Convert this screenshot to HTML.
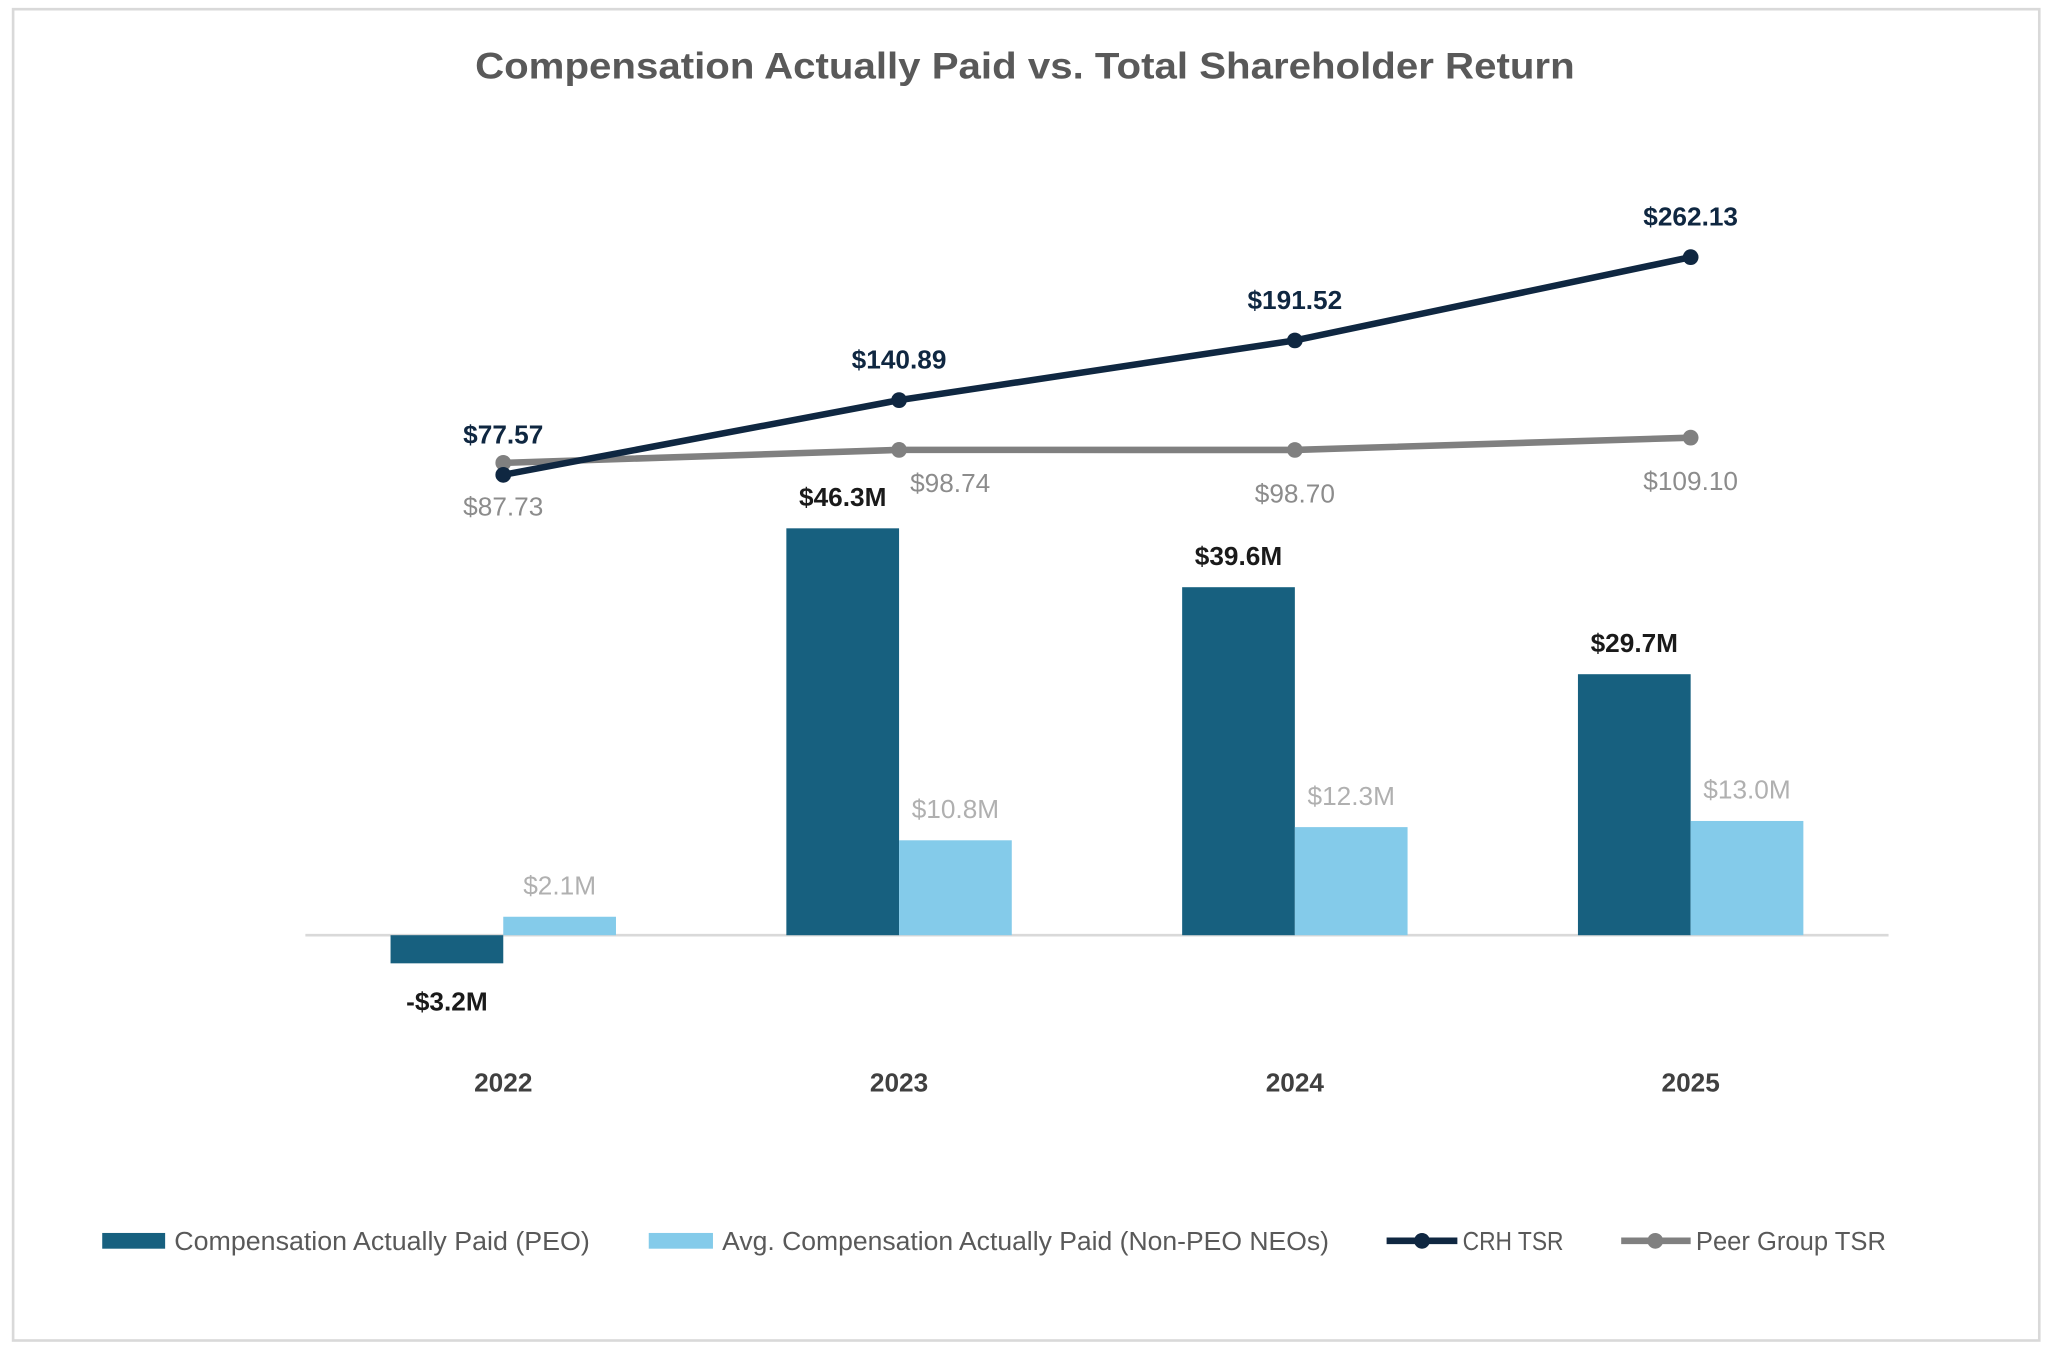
<!DOCTYPE html>
<html><head><meta charset="utf-8"><style>
html,body{margin:0;padding:0;background:#fff;}
svg{display:block;font-family:"Liberation Sans",Arial,sans-serif;}
</style></head><body>
<svg id="chart" width="2055" height="1351" viewBox="0 0 1568 1030" preserveAspectRatio="none" xmlns="http://www.w3.org/2000/svg">
<rect x="10" y="7" width="1546" height="1015" fill="#fff" stroke="#d9d9d9" stroke-width="2"/>
<text x="782" y="60" text-anchor="middle" font-size="28" font-weight="bold" fill="#595959" textLength="839" lengthAdjust="spacingAndGlyphs">Compensation Actually Paid vs. Total Shareholder Return</text>
<line x1="233" y1="713" x2="1441" y2="713" stroke="#d9d9d9" stroke-width="2"/>
<g id="bars"></g><g id="lines"></g><g id="labels"></g>
<g font-size="20" fill="#595959">
<rect x="78" y="940" width="48" height="12" fill="#17607f"/>
<text x="133" y="953" textLength="317" lengthAdjust="spacingAndGlyphs">Compensation Actually Paid (PEO)</text>
<rect x="495" y="940" width="49" height="12" fill="#84cbea"/>
<text x="551" y="953" textLength="463" lengthAdjust="spacingAndGlyphs">Avg. Compensation Actually Paid (Non-PEO NEOs)</text>
<line x1="1058" y1="946" x2="1112" y2="946" stroke="#0f2741" stroke-width="5"/>
<circle cx="1085" cy="946" r="6" fill="#0f2741"/>
<text x="1116" y="953" textLength="77" lengthAdjust="spacingAndGlyphs">CRH TSR</text>
<line x1="1237" y1="946" x2="1290" y2="946" stroke="#808080" stroke-width="5"/>
<circle cx="1263" cy="946" r="6" fill="#808080"/>
<text x="1294" y="953" textLength="145" lengthAdjust="spacingAndGlyphs">Peer Group TSR</text>
</g>
</svg>
<script>
const years = ["2022","2023","2024","2025"];
const peoValues = [-3.2, 46.3, 39.6, 29.7];
const nonPeoValues = [2.1, 10.8, 12.3, 13.0];
const crhTsr = [77.57, 140.89, 191.52, 262.13];
const peerTsr = [87.73, 98.74, 98.70, 109.10];

const NS="http://www.w3.org/2000/svg";
const xC = i => 384 + i*302;
const yBar = v => 713 - v*6.70;
const yTsr = v => 431.8 - v*0.8994;
const BW = 86;
function mk(tag, attrs, parent, txt){
  const e=document.createElementNS(NS,tag);
  for(const k in attrs) e.setAttribute(k,attrs[k]);
  if(txt!==undefined) e.textContent=txt;
  document.getElementById(parent).appendChild(e);
  return e;
}
const money = v => (v<0?"-$":"$")+Math.abs(v).toFixed(1)+"M";
years.forEach((y,i)=>{
  const c=xC(i);
  const p=peoValues[i];
  let r=mk('rect',{x:c-BW,y:Math.min(yBar(p),713),width:BW,height:Math.abs(yBar(p)-713),fill:'#17607f'},'bars');
  
  
  const n=nonPeoValues[i];
  r=mk('rect',{x:c,y:Math.min(yBar(n),713),width:BW,height:Math.abs(yBar(n)-713),fill:'#84cbea'},'bars');
  
  
  let t=mk('text',{x:c-BW/2,y:p<0?yBar(p)+36:yBar(p)-17,'text-anchor':'middle','font-size':20,'font-weight':'bold',fill:'#1a1a1a'},'labels',money(p));
  
  
  t=mk('text',{x:c+BW/2,y:yBar(n)-17,'text-anchor':'middle','font-size':20,fill:'#b0b0b0'},'labels',money(n));
  
  
  t=mk('text',{x:c,y:832,'text-anchor':'middle','font-size':20,'font-weight':'bold',fill:'#404040'},'labels',y);
  
  
});
function series(vals,color,name,labelColor,bold,below){
  const pts=vals.map((v,i)=>xC(i)+','+yTsr(v)).join(' ');
  const pl=mk('polyline',{points:pts,fill:'none',stroke:color,'stroke-width':5},'lines');
  
  
  vals.forEach((v,i)=>{
    const d=mk('circle',{cx:xC(i),cy:yTsr(v),r:6,fill:color},'lines');
    
    
    let dx=0, dy=below?40:-24;
    if(below && i===1){dx=39;dy=32;}
    const t=mk('text',{x:xC(i)+dx,y:yTsr(v)+dy,'text-anchor':'middle','font-size':20,'font-weight':bold?'bold':'normal',fill:labelColor},'labels','$'+v.toFixed(2));
    
    
  });
}
series(peerTsr,'#808080','peer-tsr','#8c8c8c',false,true);
series(crhTsr,'#0f2741','crh-tsr','#0f2741',true,false);
</script>
</body></html>
